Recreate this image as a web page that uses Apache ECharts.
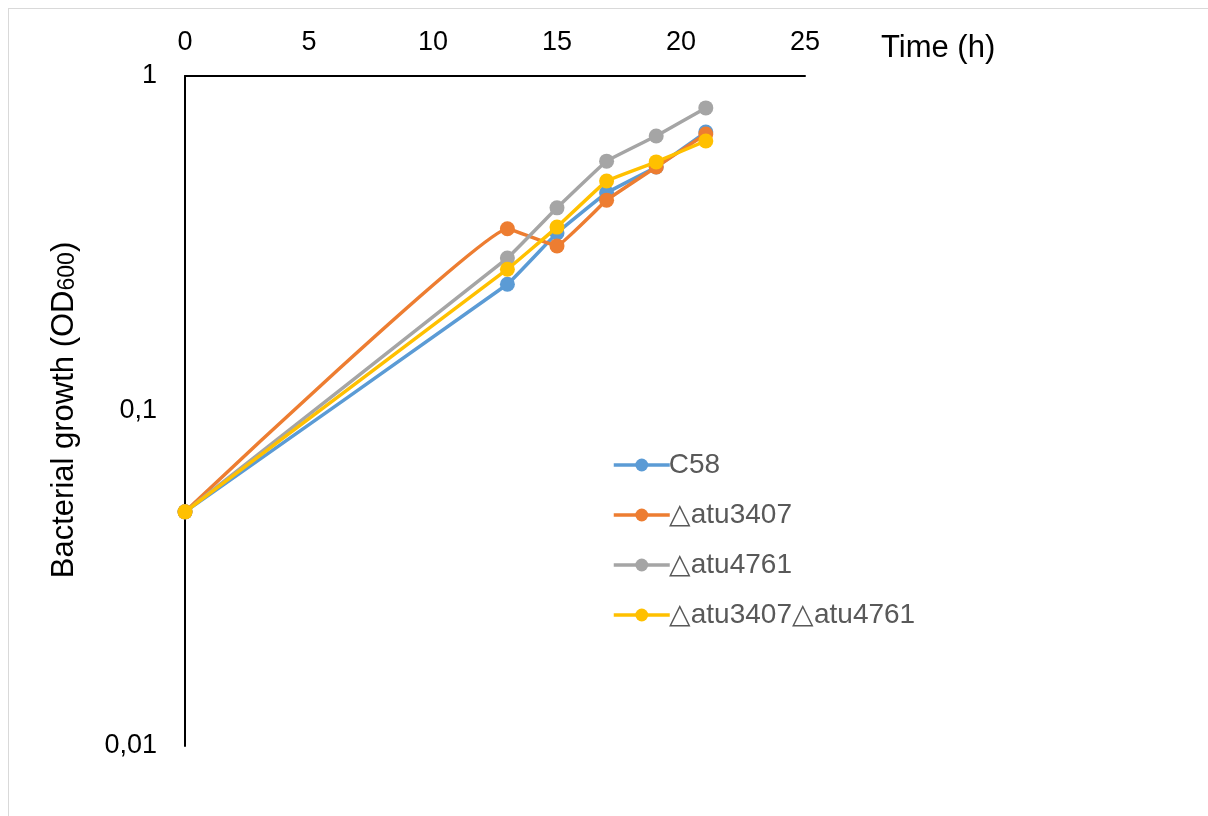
<!DOCTYPE html>
<html>
<head>
<meta charset="utf-8">
<script src="https://cdn.jsdelivr.net/npm/echarts@6/dist/echarts.min.js"></script>
<style>
  html, body { margin: 0; padding: 0; background: #fff; }
  #frame { position: absolute; left: 8px; top: 8px; width: 1210px; height: 820px; border: 1px solid #d9d9d9; box-sizing: border-box; }
  #ec { position: absolute; left: 0; top: 0; width: 1208px; height: 816px; }
</style>
</head>
<body>
<div id="frame"></div>
<div id="ec"></div>
<script>
// time points (h)
var hours = [0, 13, 15, 17, 19, 21];
var seriesNames = ['C58', '\u25B3atu3407', '\u25B3atu4761', '\u25B3atu3407\u25B3atu4761'];
var c58 = [0.05, 0.239, 0.34, 0.448, 0.535, 0.68];
var atu3407 = [0.05, 0.35, 0.311, 0.426, 0.535, 0.671];
var atu4761 = [0.05, 0.286, 0.404, 0.557, 0.662, 0.803];
var atuDouble = [0.05, 0.265, 0.354, 0.486, 0.554, 0.64];
var xTicks = [0, 5, 10, 15, 20, 25];
var yTicks = ['1', '0,1', '0,01'];

var colors = ['#5B9BD5', '#ED7D31', '#A5A5A5', '#FFC000'];
var font = '"Liberation Sans", Arial, sans-serif';

function pairs(vals) {
    return hours.map(function (h, i) { return [h, vals[i]]; });
}

var myChart = echarts.init(document.getElementById('ec'));

var allData = [c58, atu3407, atu4761, atuDouble];
var series = allData.map(function (vals, i) {
    return {
        name: seriesNames[i],
        type: 'line',
        smooth: 0.07,
        data: pairs(vals),
        symbol: 'circle',
        symbolSize: 15,
        lineStyle: { width: 3.5, color: colors[i] },
        itemStyle: { color: colors[i] },
        z: 2 + i
    };
});

var option = {
    animation: false,
    textStyle: { fontFamily: font },
    grid: { left: 185, top: 76, width: 620, height: 670 },
    legend: {
        orient: 'vertical',
        left: 607,
        top: 446,
        itemWidth: 56,
        itemHeight: 16,
        itemGap: 22,
        data: seriesNames,
        lineStyle: { width: 3.5 },
        textStyle: { fontSize: 28, color: '#595959', fontFamily: font, padding: [0, 0, 0, -6] }
    },
    xAxis: {
        type: 'value',
        position: 'top',
        min: 0,
        max: 25,
        interval: 5,
        axisLine: { show: true, onZero: false, lineStyle: { color: '#000', width: 2 } },
        axisTick: { show: false },
        splitLine: { show: false },
        axisLabel: {
            margin: 20,
            fontSize: 27,
            color: '#000',
            formatter: function (v) { return xTicks.indexOf(v) >= 0 ? String(v) : ''; }
        }
    },
    yAxis: {
        type: 'log',
        logBase: 10,
        min: 0.01,
        max: 1,
        axisLine: { show: true, onZero: false, lineStyle: { color: '#000', width: 2 } },
        axisTick: { show: false },
        splitLine: { show: false },
        axisLabel: {
            margin: 28,
            fontSize: 27,
            color: '#000',
            formatter: function (v) {
                var s = String(+v.toPrecision(3)).replace('.', ',');
                return yTicks.indexOf(s) >= 0 ? s : '';
            }
        }
    },
    graphic: [
        {
            type: 'text',
            left: 881,
            top: 33,
            style: { text: 'Time (h)', fill: '#000', font: '31px ' + font }
        },
        {
            type: 'text',
            x: 64,
            y: 410,
            rotation: Math.PI / 2,
            style: {
                text: '{a|Bacterial growth (OD}{b|600}{a|)}',
                align: 'center',
                verticalAlign: 'middle',
                rich: {
                    a: { fontSize: 31, fill: '#000', fontFamily: font },
                    b: { fontSize: 23, fill: '#000', fontFamily: font, verticalAlign: 'bottom' }
                }
            }
        }
    ],
    series: series
};

myChart.setOption(option);
</script>
</body>
</html>
